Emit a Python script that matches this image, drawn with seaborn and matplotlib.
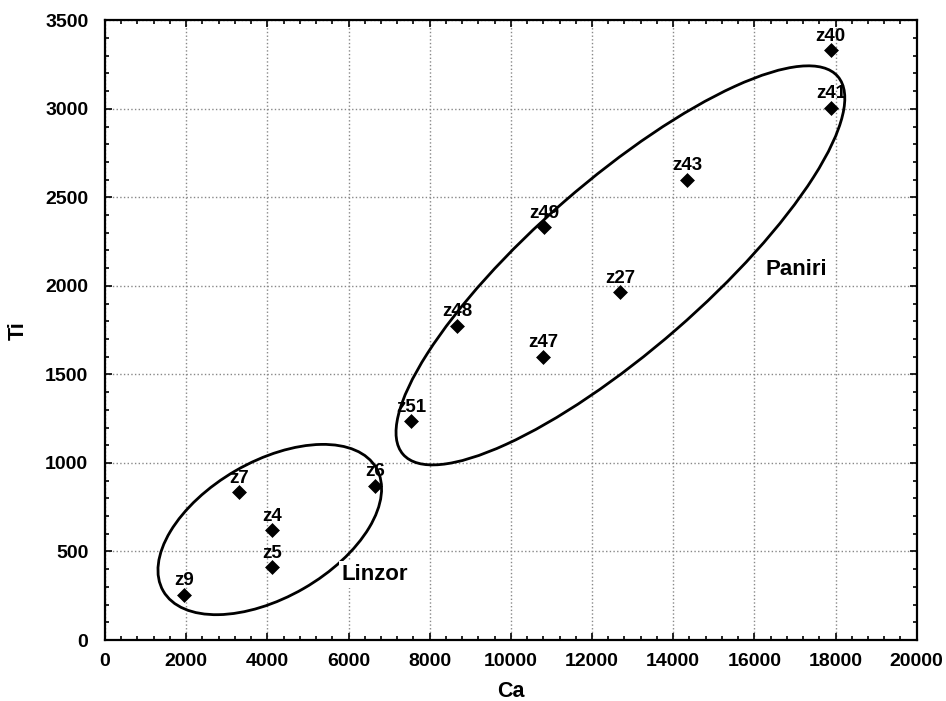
import numpy as np
import pandas as pd
import matplotlib
matplotlib.use('Agg')
import matplotlib.pyplot as plt
import seaborn as sns
from matplotlib.patches import Ellipse
from matplotlib.transforms import ScaledTranslation
from matplotlib.ticker import MultipleLocator

#data
samples = ['z9', 'z7', 'z4', 'z5', 'z6', 'z51', 'z48', 'z49', 'z47', 'z27', 'z43', 'z41', 'z40']
ca = [1950, 3300, 4120, 4120, 6650, 7550, 8680, 10820, 10800, 12700, 14350, 17900, 17880]
ti = [255, 835, 620, 410, 870, 1235, 1775, 2330, 1600, 1965, 2600, 3005, 3330]

#group ellipses: centre (data units), semi-axes (inches at 100 dpi), tilt (deg)
groups = ['Linzor', 'Paniri']
group_centre = [(4060, 624), (12700, 2116)]
group_axes = [(1.23, 0.68), (2.88, 0.85)]
group_angle = [30, 41]
group_label_pos = [(5830, 370), (16280, 2093)]

df = pd.DataFrame({'sample': samples, 'Ca': ca, 'Ti': ti})

sns.set_style('ticks')
plt.rcParams['font.family'] = ['Liberation Sans', 'DejaVu Sans']
for k in ['text.color', 'axes.labelcolor', 'xtick.color', 'ytick.color', 'axes.edgecolor']:
    plt.rcParams[k] = 'black'

fig = plt.figure(figsize=(9.46, 7.01), dpi=100)
ax = fig.add_axes([0.111, 0.087, 0.858, 0.884])

sns.scatterplot(data=df, x='Ca', y='Ti', marker='D', s=50, color='black',
                edgecolor='black', linewidth=0.5, ax=ax, zorder=4)

for s, x, y in zip(samples, ca, ti):
    ax.annotate(s, (x, y), xytext=(0, 4), textcoords='offset points',
                ha='center', va='bottom', fontsize=13.5, fontweight='bold', zorder=5)

ax.set_xlim(0, 20000)
ax.set_ylim(0, 3500)
ax.xaxis.set_major_locator(MultipleLocator(2000))
ax.xaxis.set_minor_locator(MultipleLocator(400))
ax.yaxis.set_major_locator(MultipleLocator(500))
ax.yaxis.set_minor_locator(MultipleLocator(100))
ax.tick_params(which='both', direction='in', top=True, right=True, width=1.2)
ax.tick_params(which='major', length=5, labelsize=14)
ax.tick_params(axis='x', which='major', pad=9)
ax.tick_params(axis='y', which='major', pad=12)
ax.tick_params(which='minor', length=3)
for lab in ax.get_xticklabels() + ax.get_yticklabels():
    lab.set_fontweight('bold')
ax.grid(True, which='major', linestyle=':', color='#888888', linewidth=1.0)
for sp in ax.spines.values():
    sp.set_linewidth(1.6)

ax.set_xlabel('Ca', fontsize=15.5, fontweight='bold', labelpad=8)
ax.set_ylabel('Ti', fontsize=15.5, fontweight='bold', labelpad=12)

#ellipses drawn in inches so they stay true ellipses on screen
for c, (a, b), ang in zip(group_centre, group_axes, group_angle):
    tr = fig.dpi_scale_trans + ScaledTranslation(c[0], c[1], ax.transData)
    e = Ellipse((0, 0), 2 * a, 2 * b, angle=ang, transform=tr,
                fill=False, edgecolor='black', linewidth=2, zorder=3)
    ax.add_patch(e)

for g, (x, y) in zip(groups, group_label_pos):
    ax.text(x, y, g, ha='left', va='center', fontsize=16, fontweight='bold',
            bbox=dict(facecolor='white', edgecolor='none', pad=2), zorder=3)

plt.savefig('out.png', dpi=100)
